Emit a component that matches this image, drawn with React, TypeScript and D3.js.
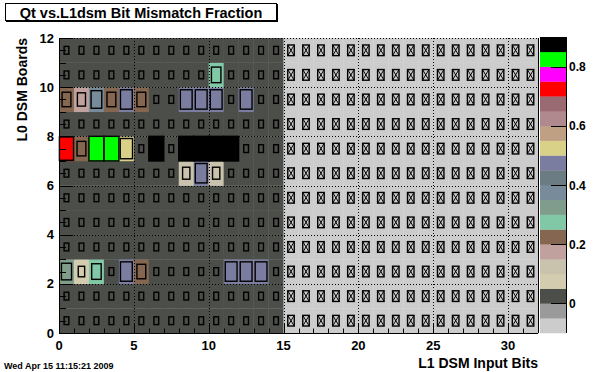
import React, { useEffect, useRef } from 'react';
import * as d3 from 'd3';

const bits = d3.range(32); // L1 DSM input bits (x bins)
const boards = d3.range(12); // L0 DSM boards (y bins)
const usedBits = 15; // bits 0..14 carry data
const quietValue = 0; // used bit, no mismatch
const unusedValue = -0.08; // unused bit, negative -> crossed box

// [bit, mismatch fraction] for the bins that are not zero, per board
const board2 = [[0, 0.325], [1, 0.075], [2, 0.275], [4, 0.475], [5, 0.225], [11, 0.475], [12, 0.475], [13, 0.475]];
const board6 = [[8, 0.125], [9, 0.475], [10, 0.125]];
const board7 = [[0, 0.725], [1, 0.225], [2, 0.825], [3, 0.825], [4, 0.525], [6, 0.875], [8, 0.875], [9, 0.875], [10, 0.875], [11, 0.875]];
const board9 = [[0, 0.225], [1, 0.175], [2, 0.375], [3, 0.225], [4, 0.475], [5, 0.225], [8, 0.475], [9, 0.475], [10, 0.475], [12, 0.475]];
const board10 = [[10, 0.275]];

// ROOT palette, bottom (-0.1) to top (0.9), 0.05 per colour
const palette = [
  '#cccccc', '#9a9a9a', '#4c4e4a', '#d3ccae', '#c9c2ad', '#c0a19e', '#856651', '#80c8a6',
  '#7f9d8a', '#778b9a', '#6b7c83', '#7b7da0', '#d8d187', '#c0a083', '#b0898f', '#9a6a72',
  '#ff0000', '#ff00ff', '#00ff00', '#000000'
];

const xTicks = [0, 5, 10, 15, 20, 25, 30];
const yTicks = [0, 2, 4, 6, 8, 10, 12];
const zTicks = [0, 0.2, 0.4, 0.6, 0.8];

const FONT = '"Liberation Sans", Arial, Helvetica, sans-serif';

const App = () => {
  const ref = useRef<SVGSVGElement>(null);

  useEffect(() => {
    const width = 596;
    const height = 372;
    const frame = { left: 59, right: 538, top: 38, bottom: 333 };

    const svg = d3.select(ref.current);
    svg.selectAll('*').remove();
    svg.attr('width', width).attr('height', height);

    svg.append('rect').attr('width', width).attr('height', height).attr('fill', '#fff');

    const x = d3.scaleLinear().domain([0, 32]).range([frame.left, frame.right]);
    const y = d3.scaleLinear().domain([0, 12]).range([frame.bottom, frame.top]);
    const zMin = -0.1;
    const zMax = 0.9;
    const z = d3.scaleLinear().domain([zMin, zMax]).range([frame.bottom, frame.top - 1]);
    const color = d3.scaleQuantize<string>().domain([zMin, zMax]).range(palette);

    const extra: Record<string, number> = {};
    const rows: [number, number[][]][] = [[2, board2], [6, board6], [7, board7], [9, board9], [10, board10]];
    rows.forEach(([b, list]) => list.forEach(([bit, v]) => { extra[`${bit}-${b}`] = v; }));

    const cells = boards.flatMap(b => bits.map(bit => {
      const key = `${bit}-${b}`;
      const v = key in extra ? extra[key] : (bit < usedBits ? quietValue : unusedValue);
      return { bit, b, v };
    }));

    const cw = x(1) - x(0);
    const ch = y(0) - y(1);

    // colour cells
    svg.append('g')
      .selectAll('rect')
      .data(cells)
      .join('rect')
      .attr('x', d => x(d.bit))
      .attr('y', d => y(d.b + 1))
      .attr('width', cw + 0.3)
      .attr('height', ch + 0.3)
      .attr('fill', d => color(d.v));

    // grid
    const grid = svg.append('g').attr('stroke', '#000').attr('stroke-width', 1).attr('stroke-dasharray', '1,2');
    xTicks.filter(t => t > 0).forEach(t => {
      grid.append('line').attr('x1', Math.round(x(t)) + 0.5).attr('x2', Math.round(x(t)) + 0.5)
        .attr('y1', frame.top).attr('y2', frame.bottom);
    });
    yTicks.filter(t => t > 0).forEach(t => {
      grid.append('line').attr('y1', Math.round(y(t)) + 0.5).attr('y2', Math.round(y(t)) + 0.5)
        .attr('x1', frame.left).attr('x2', frame.right);
    });

    // boxes
    const frac = (v: number) => Math.min(1, Math.sqrt(0.1 + 1.1 * Math.abs(v)));
    const boxes = svg.append('g').attr('fill', 'none').attr('stroke', '#000').attr('stroke-width', 1.4);
    cells.forEach(d => {
      const f = frac(d.v);
      const bw = cw * f;
      const bh = ch * f;
      const cx = x(d.bit + 0.5);
      const cy = y(d.b + 0.5);
      const x0 = cx - bw / 2;
      const y0 = cy - bh / 2;
      boxes.append('rect').attr('x', x0).attr('y', y0).attr('width', bw).attr('height', bh);
      if (d.v < 0) {
        boxes.append('path')
          .attr('d', `M${x0},${y0}L${x0 + bw},${y0 + bh}M${x0 + bw},${y0}L${x0},${y0 + bh}`)
          .attr('stroke-width', 1);
      }
    });

    // axes lines
    const axis = svg.append('g').attr('stroke', '#000').attr('stroke-width', 1);
    axis.append('line').attr('x1', frame.left + 0.5).attr('x2', frame.left + 0.5).attr('y1', frame.top).attr('y2', frame.bottom + 0.5);
    axis.append('line').attr('x1', frame.left).attr('x2', frame.right).attr('y1', frame.bottom + 0.5).attr('y2', frame.bottom + 0.5);
    axis.append('line').attr('x1', frame.right + 0.5).attr('x2', frame.right + 0.5).attr('y1', frame.top).attr('y2', frame.bottom);

    // y ticks every 0.5, major at labels
    d3.range(0, 12.01, 0.5).forEach(t => {
      const len = t % 2 === 0 ? 14 : 7;
      const yy = Math.round(y(t)) + 0.5;
      axis.append('line').attr('x1', frame.left).attr('x2', frame.left + len).attr('y1', yy).attr('y2', yy);
    });
    // x ticks every 1, major at labels
    d3.range(0, 33).forEach(t => {
      const len = t % 5 === 0 ? 9 : 4.5;
      const xx = Math.round(x(t)) + 0.5;
      axis.append('line').attr('x1', xx).attr('x2', xx).attr('y1', frame.bottom).attr('y2', frame.bottom - len);
    });

    const text = svg.append('g').attr('font-family', FONT).attr('font-weight', 'bold').attr('fill', '#000');

    text.selectAll('text.xl')
      .data(xTicks)
      .join('text')
      .attr('x', d => x(d))
      .attr('y', 350)
      .attr('text-anchor', 'middle')
      .attr('font-size', 13)
      .text(d => d);

    text.selectAll('text.yl')
      .data(yTicks)
      .join('text')
      .attr('x', 54)
      .attr('y', d => y(d) + 4.5)
      .attr('text-anchor', 'end')
      .attr('font-size', 13)
      .text(d => d);

    text.append('text')
      .attr('x', frame.right)
      .attr('y', 368)
      .attr('text-anchor', 'end')
      .attr('font-size', 14)
      .text('L1 DSM Input Bits');

    text.append('text')
      .attr('transform', `translate(27,${frame.top}) rotate(-90)`)
      .attr('text-anchor', 'end')
      .attr('font-size', 14)
      .text('L0 DSM Boards');

    // palette
    const pal = svg.append('g');
    const pl = 540;
    const pr = 566;
    pal.selectAll('rect')
      .data(palette)
      .join('rect')
      .attr('x', pl)
      .attr('width', pr - pl)
      .attr('y', (_, i) => z(zMin + (i + 1) * 0.05))
      .attr('height', (_, i) => z(zMin + i * 0.05) - z(zMin + (i + 1) * 0.05) + 0.3)
      .attr('fill', d => d);
    pal.append('line').attr('x1', pr + 0.5).attr('x2', pr + 0.5).attr('y1', z(zMax)).attr('y2', z(zMin)).attr('stroke', '#000');
    zTicks.forEach(t => {
      const yy = Math.round(z(t)) + 0.5;
      pal.append('line').attr('x1', pr - 15).attr('x2', pr).attr('y1', yy).attr('y2', yy).attr('stroke', '#000');
    });
    text.selectAll('text.zl')
      .data(zTicks)
      .join('text')
      .attr('x', 569)
      .attr('y', d => z(d) + 4.5)
      .attr('font-size', 12)
      .text(d => (d === 0 ? '0' : d3.format('.1f')(d)));

    // title
    svg.append('rect').attr('x', 6).attr('y', 4).attr('width', 272).attr('height', 18).attr('fill', '#000');
    svg.append('rect').attr('x', 5.5).attr('y', 3.5).attr('width', 271).attr('height', 17)
      .attr('fill', '#fff').attr('stroke', '#000');
    text.raise();
    text.append('text')
      .attr('x', 141)
      .attr('y', 17.5)
      .attr('text-anchor', 'middle')
      .attr('font-size', 14.5)
      .text('Qt vs.L1dsm Bit Mismatch Fraction');

    text.append('text')
      .attr('x', 4)
      .attr('y', 369)
      .attr('font-size', 9)
      .text('Wed Apr 15 11:15:21 2009');
  }, []);

  return (
    <div style={{ position: 'absolute', left: 0, top: 0 }}>
      <svg ref={ref}></svg>
    </div>
  );
};

export default App;
